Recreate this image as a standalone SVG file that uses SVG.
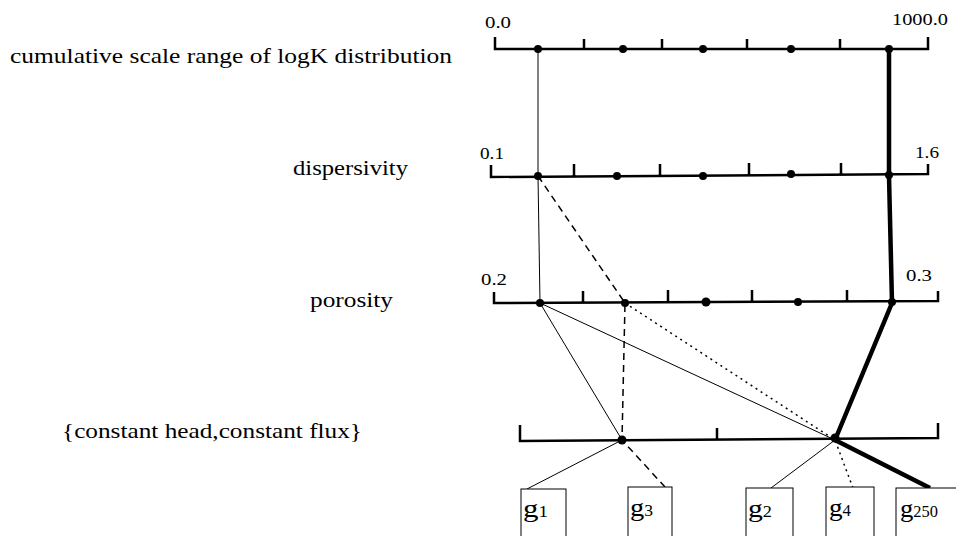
<svg xmlns="http://www.w3.org/2000/svg" width="956" height="536" viewBox="0 0 956 536">
<style>
.axis{fill:none;stroke:#000;stroke-width:2.5}
.thin{stroke:#000;stroke-width:1;fill:none}
.dash{stroke:#000;stroke-width:1.5;stroke-dasharray:7,5;fill:none}
.dot{stroke:#000;stroke-width:1.5;stroke-dasharray:2,4;fill:none}
.thick{stroke:#000;stroke-width:4.5;fill:none;stroke-linejoin:round}
.box{fill:#fff;stroke:#000;stroke-width:1}
</style>
<rect width="956" height="536" fill="#fff"/>
<g id="connectors">
<polyline class="thin" points="538,49 538,176 540,303"/>
<line class="thin" x1="540" y1="303" x2="622" y2="440"/>
<line class="thin" x1="540" y1="303" x2="835" y2="440"/>
<line class="thin" x1="622" y1="440" x2="527" y2="489"/>
<line class="thin" x1="835" y1="440" x2="771" y2="488"/>
<polyline class="dash" points="538,176 625,303 622,440 665,487"/>
<polyline class="dot" points="625,303 835,440 853,488"/>
<polyline class="thick" points="889,49 889,176 892,303 835,440 930,488"/>
</g>
<g font-family="'Liberation Serif', 'Times New Roman', serif" fill="#000" lengthAdjust="spacingAndGlyphs">
<g id="axis-logK">
<text font-size="22" x="10" y="63" textLength="442" lengthAdjust="spacingAndGlyphs">cumulative scale range of logK distribution</text>
<text font-size="17" x="485" y="28" textLength="26" lengthAdjust="spacingAndGlyphs">0.0</text>
<text font-size="17" x="892" y="25" textLength="56" lengthAdjust="spacingAndGlyphs">1000.0</text>
<path class="axis" d="M495,37V49H928V37M584,39V49M662,39V49M747,39V49M840,39V49"/>
<circle cx="538" cy="49" r="4"/><circle cx="623" cy="49" r="4"/><circle cx="703" cy="49" r="4"/><circle cx="791" cy="49" r="4"/><circle cx="889" cy="49" r="4"/>
</g>
<g id="axis-dispersivity">
<text font-size="22" x="293" y="175" textLength="115" lengthAdjust="spacingAndGlyphs">dispersivity</text>
<text font-size="17" x="480" y="159" textLength="24" lengthAdjust="spacingAndGlyphs">0.1</text>
<text font-size="17" x="915" y="158" textLength="24" lengthAdjust="spacingAndGlyphs">1.6</text>
<path class="axis" d="M491,165V177L928,174V164M574,164V176M660,164V176M749,163V175M841,163V175"/>
<circle cx="538" cy="176" r="4"/><circle cx="617" cy="176" r="4"/><circle cx="703" cy="176" r="4"/><circle cx="791" cy="174" r="4"/><circle cx="889" cy="175" r="4"/>
</g>
<g id="axis-porosity">
<text font-size="22" x="310" y="307" textLength="83" lengthAdjust="spacingAndGlyphs">porosity</text>
<text font-size="17" x="481" y="285" textLength="26" lengthAdjust="spacingAndGlyphs">0.2</text>
<text font-size="17" x="906" y="281" textLength="26" lengthAdjust="spacingAndGlyphs">0.3</text>
<path class="axis" d="M494,292V303L938,301V291M583,291V303M668,290V302M752,290V302M847,290V302"/>
<circle cx="540" cy="303" r="4"/><circle cx="625" cy="303" r="4"/><circle cx="706" cy="302" r="4.5"/><circle cx="798" cy="302" r="4"/><circle cx="892" cy="302" r="4"/>
</g>
<g id="axis-bc">
<text font-size="22" x="62" y="438" textLength="300" lengthAdjust="spacingAndGlyphs">{constant head,constant flux}</text>
<path class="axis" d="M520,425V441L938,438V423M717,428V440"/>
<circle cx="622" cy="440" r="4.5"/><circle cx="835" cy="438" r="4.5"/>
</g>
<g id="g1"><rect class="box" x="521" y="489" width="45" height="50"/><text x="523" y="517" textLength="25" lengthAdjust="spacingAndGlyphs"><tspan font-size="26">g</tspan><tspan font-size="16">1</tspan></text></g>
<g id="g3"><rect class="box" x="628" y="487" width="44" height="52"/><text x="630" y="516" textLength="23" lengthAdjust="spacingAndGlyphs"><tspan font-size="26">g</tspan><tspan font-size="16">3</tspan></text></g>
<g id="g2"><rect class="box" x="746" y="488" width="47" height="51"/><text x="748" y="517" textLength="24" lengthAdjust="spacingAndGlyphs"><tspan font-size="26">g</tspan><tspan font-size="16">2</tspan></text></g>
<g id="g4"><rect class="box" x="826" y="487" width="48" height="52"/><text x="829" y="516" textLength="22" lengthAdjust="spacingAndGlyphs"><tspan font-size="26">g</tspan><tspan font-size="16">4</tspan></text></g>
<g id="g250"><rect class="box" x="896" y="488" width="70" height="51"/><text x="900" y="517" textLength="38" lengthAdjust="spacingAndGlyphs"><tspan font-size="26">g</tspan><tspan font-size="16">250</tspan></text></g>
</g>
</svg>
